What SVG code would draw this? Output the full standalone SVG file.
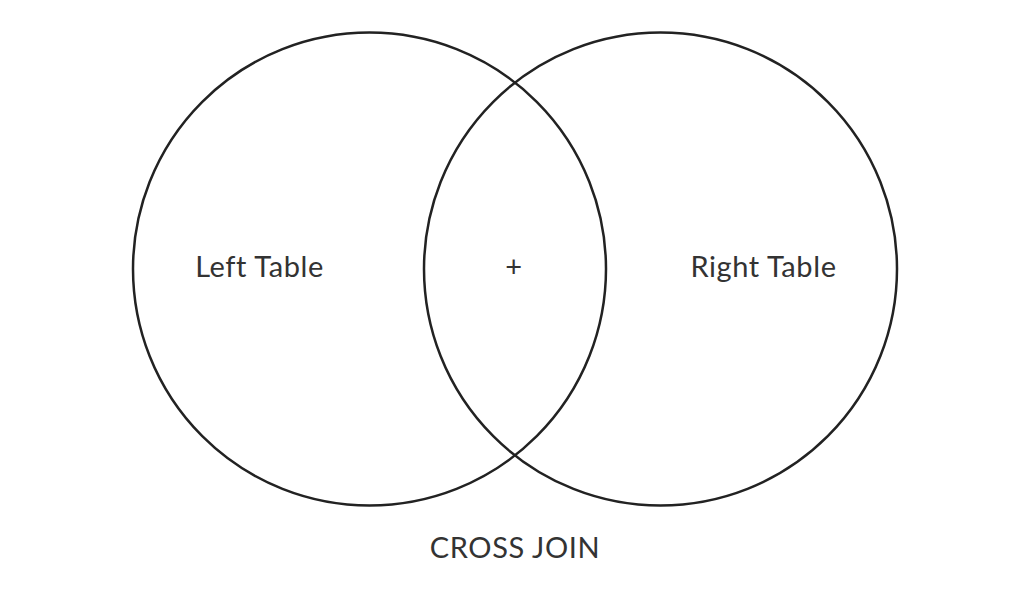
<svg xmlns="http://www.w3.org/2000/svg" width="1028" height="592" viewBox="0 0 1028 592">
<style>
.c{fill:none;stroke:#222;stroke-width:2.5}
.t{font-family:Lato,"Open Sans",sans-serif;font-size:29px;letter-spacing:0.6px;fill:#333;text-anchor:middle}
</style>
<rect width="1028" height="592" fill="#fff"/>
<g id="left-table"><circle class="c" cx="369.5" cy="269" r="236.5"/><text class="t" x="259.5" y="277">Left Table</text></g>
<g id="right-table"><circle class="c" cx="660.5" cy="269" r="236.5"/><text class="t" x="763.5" y="277">Right Table</text></g>
<g id="intersection"><text class="t" x="514" y="277">+</text></g>
<g id="caption"><text class="t" x="515" y="558">CROSS JOIN</text></g>
<g id="connectors"/>
</svg>
